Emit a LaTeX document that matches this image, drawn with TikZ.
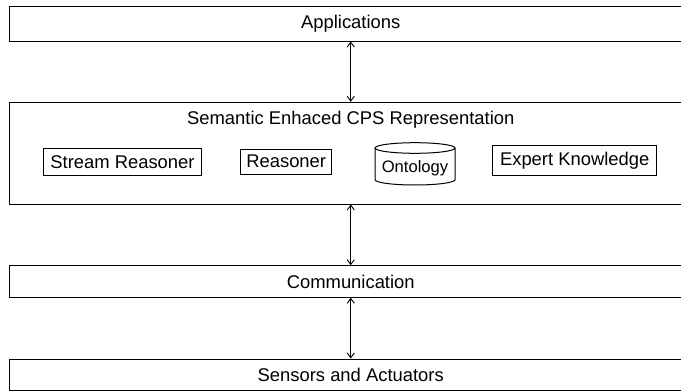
\documentclass[tikz,border=0pt]{standalone}
\usepackage{fontspec}
\setmainfont{Liberation Sans}
\usetikzlibrary{arrows.meta}

\begin{document}
\begin{tikzpicture}[x=0.5pt, y=-0.5pt,
    layer/.style={draw, line width=0.5pt, minimum width=341.25pt, inner sep=0pt, font=\fontsize{9.2}{11}\selectfont},
    part/.style={draw, line width=0.5pt, inner sep=0pt, font=\fontsize{9.2}{11}\selectfont},
    link/.style={{Straight Barb[length=2.4pt,width=3.6pt]}-{Straight Barb[length=2.4pt,width=3.6pt]}, line width=0.45pt}]
            \useasboundingbox (0,0) rectangle (681,391);
            \clip (0,0) rectangle (681,391);

            \node[layer, minimum height=17.5pt] (apps) at (350.75,23.5) {Applications};
            \node[layer, minimum height=50.85pt] (sem) at (350.75,153.15) {};
            \node[font=\fontsize{9.2}{11}\selectfont] (semtitle) at (350.75,120) {Semantic Enhaced CPS Representation};
            \node[layer, minimum height=15.8pt] (comm) at (350.75,281.5) {Communication};
            \node[layer, minimum height=15.5pt] (sens) at (350.75,374.5) {Sensors and Actuators};

            \node[part, minimum width=79.2pt, minimum height=13.35pt] (stream) at (122.5,161.7) {Stream Reasoner};
            \node[part, minimum width=45.5pt, minimum height=12.5pt] (reason) at (286.2,161.5) {Reasoner};
            \node[part, minimum width=82pt, minimum height=15pt] (expert) at (574.7,160.7) {Expert Knowledge};

            % ontology store
            \draw[line width=0.5pt] (415,148) ellipse [x radius=40, y radius=5.3];
            \draw[line width=0.5pt] (375,148) -- (375,179.7) arc[start angle=180, end angle=0, x radius=40, y radius=5.3] -- (455,148);
            \node[font=\fontsize{8.3}{10}\selectfont] (onto) at (415,168) {Ontology};

            \draw[link] (apps.south) -- (sem.north);
            \draw[link] (sem.south) -- (comm.north);
            \draw[link] (comm.south) -- (sens.north);
        \end{tikzpicture}
\end{document}
